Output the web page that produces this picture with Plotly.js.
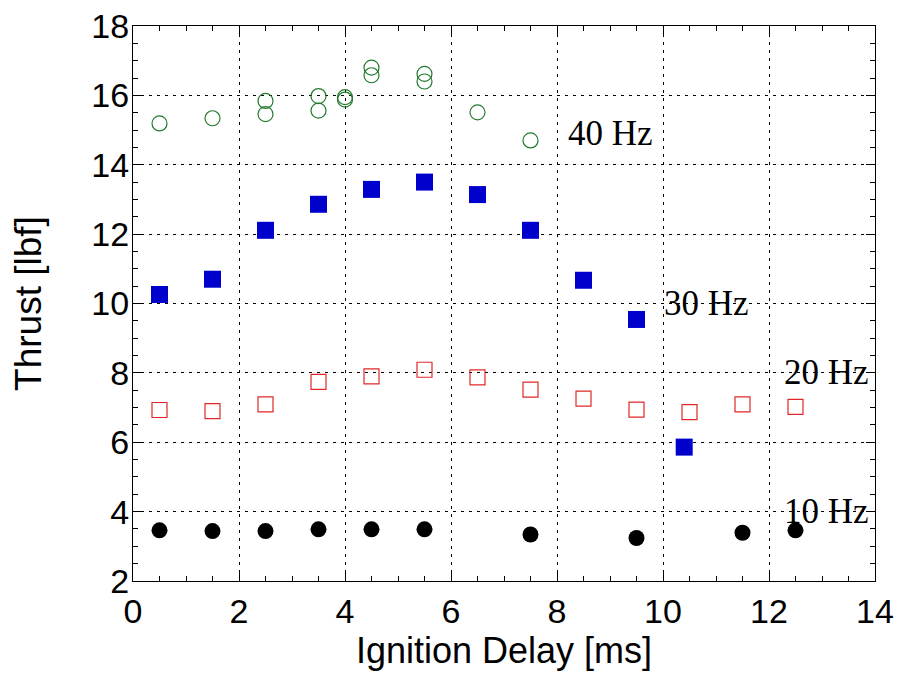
<!DOCTYPE html>
<html>
<head>
<meta charset="utf-8">
<script src="https://cdn.plot.ly/plotly-3.0.1.min.js"></script>
<style>html,body{margin:0;padding:0;background:#fff;}#chart{width:899px;height:675px;}</style>
</head>
<body>
<div id="chart"></div>
<script>
// 40 Hz (open green circles)
const x40 = [0.5, 1.5, 2.5, 2.5, 3.5, 3.5, 4.0, 4.0, 4.5, 4.5, 5.5, 5.5, 6.5, 7.5];
const y40 = [15.19, 15.34, 15.84, 15.46, 15.98, 15.56, 15.95, 15.88, 16.80, 16.58, 16.62, 16.40, 15.51, 14.70];
// 30 Hz (filled blue squares)
const x30 = [0.5, 1.5, 2.5, 3.5, 4.5, 5.5, 6.5, 7.5, 8.5, 9.5, 10.4];
const y30 = [10.26, 10.70, 12.11, 12.86, 13.29, 13.50, 13.14, 12.11, 10.67, 9.54, 5.86];
// 20 Hz (open red squares)
const x20 = [0.5, 1.5, 2.5, 3.5, 4.5, 5.5, 6.5, 7.5, 8.5, 9.5, 10.5, 11.5, 12.5];
const y20 = [6.93, 6.90, 7.09, 7.74, 7.90, 8.09, 7.87, 7.52, 7.26, 6.94, 6.87, 7.09, 7.02];
// 10 Hz (filled black circles)
const x10 = [0.5, 1.5, 2.5, 3.5, 4.5, 5.5, 7.5, 9.5, 11.5, 12.5];
const y10 = [3.46, 3.44, 3.44, 3.49, 3.49, 3.49, 3.34, 3.24, 3.39, 3.46];
// series labels
const labelText = ["40 Hz", "30 Hz", "20 Hz", "10 Hz"];
const labelX = [9.0, 10.83, 13.09, 13.09];
const labelY = [14.91, 10.0, 8.0, 4.01];

const traces = [
  {x: x40, y: y40, type: 'scatter', mode: 'markers', name: '40 Hz',
   marker: {symbol: 'circle-open', size: 15, color: '#237a2f', line: {width: 1.2, color: '#237a2f'}}},
  {x: x30, y: y30, type: 'scatter', mode: 'markers', name: '30 Hz',
   marker: {symbol: 'square', size: 17, color: '#0000cc', line: {width: 0}}},
  {x: x20, y: y20, type: 'scatter', mode: 'markers', name: '20 Hz',
   marker: {symbol: 'square-open', size: 15, color: '#e02828', line: {width: 1.2, color: '#e02828'}}},
  {x: x10, y: y10, type: 'scatter', mode: 'markers', name: '10 Hz',
   marker: {symbol: 'circle', size: 16, color: '#000000', line: {width: 0}}}
];

const annotations = labelText.map((t, i) => ({
  x: labelX[i], y: labelY[i], xref: 'x', yref: 'y', text: t, showarrow: false,
  xanchor: 'center', yanchor: 'middle',
  font: {family: 'Liberation Serif, Times New Roman', size: 35, color: '#000'}
}));

const axisCommon = {
  showline: true, linecolor: '#000', linewidth: 1, mirror: 'allticks',
  ticks: 'inside', ticklen: 9, tickwidth: 1, tickcolor: '#000',
  showgrid: true, gridcolor: '#000', gridwidth: 1, griddash: '3px,5px',
  zeroline: false,
  tickfont: {family: 'Liberation Sans, Arial', size: 34, color: '#000'}
};

const layout = {
  width: 899, height: 675,
  margin: {l: 133, r: 24, t: 26, b: 94, pad: 0},
  paper_bgcolor: '#fff', plot_bgcolor: '#fff',
  showlegend: false,
  xaxis: Object.assign({}, axisCommon, {
    range: [0, 14], dtick: 2, tick0: 0,
    minor: {dtick: 0.5, ticks: 'inside', ticklen: 5, tickcolor: '#000', showgrid: false},
    title: {text: 'Ignition Delay [ms]', font: {family: 'Liberation Sans, Arial', size: 36, color: '#000'}, standoff: 6}
  }),
  yaxis: Object.assign({}, axisCommon, {
    range: [2, 18], dtick: 2, tick0: 0, ticklabelstandoff: -4,
    minor: {dtick: 0.5, ticks: 'inside', ticklen: 5, tickcolor: '#000', showgrid: false},
    title: {text: 'Thrust [lbf]', font: {family: 'Liberation Sans, Arial', size: 37, color: '#000'}, standoff: 38}
  }),
  annotations: annotations
};

Plotly.newPlot('chart', traces, layout, {displayModeBar: false, staticPlot: true});
</script>
</body>
</html>
